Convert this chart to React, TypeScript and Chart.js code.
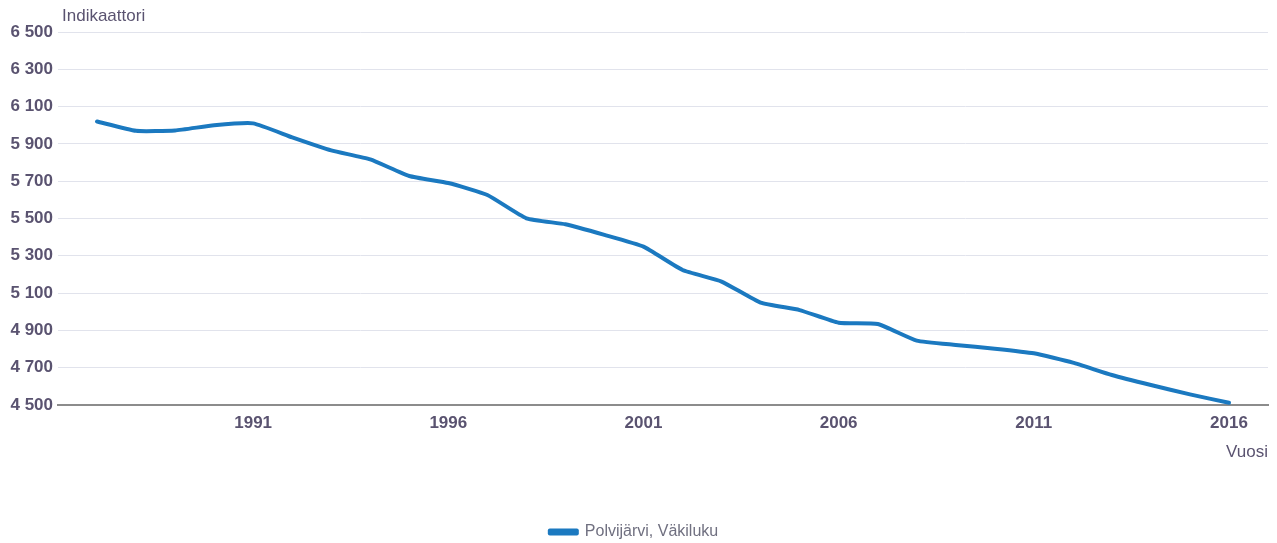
import React, { useEffect, useRef } from "react";
import { Chart, registerables } from "chart.js";

Chart.register(...registerables);

const years: number[] = [
  1987, 1988, 1989, 1990, 1991, 1992, 1993, 1994, 1995, 1996,
  1997, 1998, 1999, 2000, 2001, 2002, 2003, 2004, 2005, 2006,
  2007, 2008, 2009, 2010, 2011, 2012, 2013, 2014, 2015, 2016,
];

const population: number[] = [
  6020, 5970, 5972, 6000, 6010, 5935, 5865, 5817, 5728, 5690,
  5626, 5501, 5469, 5412, 5349, 5224, 5162, 5049, 5009, 4941,
  4934, 4845, 4822, 4802, 4777, 4727, 4661, 4607, 4557, 4512,
];

const xTickYears: number[] = [1991, 1996, 2001, 2006, 2011, 2016];

const seriesLabel = "Polvijärvi, Väkiluku";
const yAxisTitle = "Indikaattori";
const xAxisTitle = "Vuosi";

const FONT = "'Liberation Sans', Arial, sans-serif";
const TEXT = "#5a5370";
const LINE = "#1b79c0";

const yTitlePlugin = {
  id: "yTitle",
  afterDraw(chart: any) {
    const { ctx, chartArea } = chart;
    ctx.save();
    ctx.font = `17px ${FONT}`;
    ctx.fillStyle = TEXT;
    ctx.textAlign = "left";
    ctx.textBaseline = "middle";
    ctx.fillText(yAxisTitle, chartArea.left + 4, chartArea.top - 16);
    ctx.restore();
  },
};

export default function App() {
  const ref = useRef<HTMLCanvasElement | null>(null);

  useEffect(() => {
    if (!ref.current) return;
    const chart = new Chart(ref.current, {
      type: "line",
      data: {
        datasets: [
          {
            label: seriesLabel,
            data: years.map((y, i) => ({ x: y, y: population[i] })),
            borderColor: LINE,
            backgroundColor: LINE,
            borderWidth: 4,
            pointRadius: 0,
            pointHoverRadius: 0,
            tension: 0.15,
            borderJoinStyle: "round",
            borderCapStyle: "round",
            fill: false,
          },
        ],
      },
      options: {
        animation: false,
        responsive: true,
        maintainAspectRatio: false,
        layout: { padding: { top: 32, right: 9, left: 0, bottom: -7 } },
        scales: {
          x: {
            type: "linear",
            min: 1986,
            max: 2017,
            afterBuildTicks: (scale: any) => {
              scale.ticks = xTickYears.map((v) => ({ value: v }));
            },
            afterFit: (scale: any) => {
              scale.height = 109;
            },
            grid: { display: false, drawTicks: false },
            border: { display: true, color: "#8c8c8c", width: 2 },
            ticks: {
              padding: 8,
              color: TEXT,
              font: { family: FONT, size: 17, weight: "bold" },
              maxRotation: 0,
              autoSkip: false,
              callback: (v: any) => String(v),
            },
            title: {
              display: true,
              text: xAxisTitle,
              align: "end",
              color: TEXT,
              font: { family: FONT, size: 17 },
              padding: { top: 4, bottom: 51 },
            },
          },
          y: {
            min: 4500,
            max: 6500,
            afterFit: (scale: any) => {
              scale.width = 58;
            },
            grid: { color: "#e1e3ec", lineWidth: 1, drawTicks: false },
            border: { display: false },
            ticks: {
              stepSize: 200,
              padding: 5,
              color: TEXT,
              font: { family: FONT, size: 17, weight: "bold" },
              callback: (v: any) =>
                String(v).replace(/\B(?=(\d{3})+(?!\d))/g, " "),
            },
          },
        },
        plugins: {
          legend: {
            position: "bottom",
            labels: {
              boxWidth: 27,
              boxHeight: 3,
              padding: 10,
              color: "#707080",
              font: { family: FONT, size: 16 },
            },
          },
          tooltip: { enabled: false },
        },
      },
      plugins: [yTitlePlugin],
    } as any);
    return () => chart.destroy();
  }, []);

  return (
    <div
      style={{
        position: "absolute",
        left: 0,
        top: 0,
        width: 1277,
        height: 543,
        background: "#fff",
      }}
    >
      <canvas ref={ref} />
    </div>
  );
}
